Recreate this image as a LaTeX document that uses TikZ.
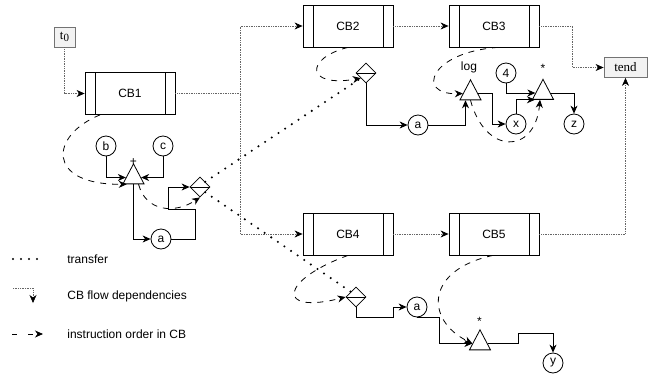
\documentclass[tikz,border=0pt]{standalone}
\usepackage{fontspec}
\setmainfont{Liberation Sans}
\newfontfamily\tnr{Liberation Serif}
\usetikzlibrary{arrows.meta,shapes.geometric}

\begin{document}
\begin{tikzpicture}[x=1pt, y=-1pt, line width=0.8pt,
    font=\fontsize{12}{14}\selectfont,
    >={Stealth[length=8pt,width=7pt,inset=2.5pt]},
    cb/.style={draw, minimum width=90pt, minimum height=42pt, inner sep=0pt,
      path picture={\draw ([xshift=10pt]path picture bounding box.north west) -- ([xshift=10pt]path picture bounding box.south west)
        ([xshift=-10pt]path picture bounding box.north east) -- ([xshift=-10pt]path picture bounding box.south east);}},
    term/.style={draw=black!55, fill=black!5, minimum height=20pt, inner sep=0pt, font=\tnr\fontsize{13}{14}\selectfont},
    var/.style={circle, draw, minimum size=20pt, inner sep=0pt},
    op/.style={isosceles triangle, isosceles triangle stretches, shape border rotate=90,
      draw, minimum width=21pt, minimum height=20pt, inner sep=0pt},
    split/.style={diamond, draw, minimum width=20pt, minimum height=20pt, inner sep=0pt,
      path picture={\draw (path picture bounding box.west) -- (path picture bounding box.east);}},
    lbl/.style={anchor=base, inner sep=0pt},
    key/.style={anchor=west, inner sep=0pt},
    flow/.style={-{Stealth[length=8pt,width=7pt,inset=2.5pt,color=black]}, draw=black!60, densely dotted, line width=0.7pt},
    instr/.style={->, dash pattern=on 6pt off 6pt},
    transfer/.style={line width=2.3pt, line cap=round, dash pattern=on 0pt off 8pt}]

    \useasboundingbox (0,0) rectangle (649,373);

    % control blocks
    \node[term, minimum width=21pt] (t0) at (64.5,37) {t\raisebox{-0.4ex}{\fontsize{11}{11}\selectfont 0}};
    \node[term, minimum width=43pt] (tend) at (625.5,67.5) {tend};
    \node[cb] (cb1) at (130,93.5) {CB1};
    \node[cb] (cb2) at (348,26) {CB2};
    \node[cb] (cb3) at (494,26) {CB3};
    \node[cb] (cb4) at (348,234) {CB4};
    \node[cb] (cb5) at (494,234) {CB5};
    \coordinate (fork) at (240,93.5);

    \draw[flow] (t0.south) |- (cb1.west);
    \draw[flow] (cb1.east) -- (fork) |- (cb2.west);
    \draw[flow] (fork) |- (cb4.west);
    \draw[flow] (cb2) -- (cb3);
    \draw[flow] (cb4) -- (cb5);
    \draw[flow] (cb3.east) -- ++(33,0) |- (tend.west);
    \draw[flow] (cb5.east) -| (tend.south);

    % CB1
    \node[var] (b) at (106,146) {b};
    \node[var] (c) at (163,146) {c};
    \node[op] (add) at (133.5,177.5) {};
    \node[lbl] (addl) at (133.5,165) {+};
    \node[var] (a1) at (161,239) {a};
    \node[split] (s1) at (200,187) {};

    \draw[->] (b) |- (add.west);
    \draw[->] (c) |- (add.east);
    \draw[->] (add.south) |- (a1.west);
    \draw[->] (a1.east) -- ++(24,0) -- ++(0,-30) -- ++(-27,0) |- (s1.west);
    \draw[instr] ([xshift=-30pt]cb1.south) .. controls (50,135) and (45,185) .. (add.south west);
    \draw[instr] ([xshift=5pt]add.south) .. controls (146,212) and (175,214) .. (s1.south);

    % CB2
    \node[split] (s2) at (366,73) {};
    \node[var] (a2) at (418,125) {a};
    \draw[->] (s2.south) |- (a2.west);
    \draw[instr] (cb2.south) .. controls (305,58) and (305,88) .. (s2.south west);

    % CB3
    \node[op] (log) at (470.5,93.5) {};
    \node[lbl] (logl) at (469,70) {log};
    \node[var] (x) at (516,124) {x};
    \node[var] (four) at (506,73) {4};
    \node[op] (mul) at (543,93) {};
    \node[lbl] (mull) at (543,72) {*};
    \node[var] (z) at (574,124) {z};

    \draw[->] (a2.east) -| ([xshift=-5pt]log.south);
    \draw[->] (log.east) -- ++(14,0) |- (x.west);
    \draw[->] (four.south) |- (mul.west);
    \draw[->] (x.north) |- (mul.220);
    \draw[->] (mul.east) -| (z.north);
    \draw[instr] ([xshift=4pt]cb3.south) .. controls (430,52) and (415,95) .. (log.west);
    \draw[instr] (log.south) .. controls (485,155) and (535,155) .. ([xshift=-3pt]mul.south);

    % CB4
    \node[split] (s3) at (356,297) {};
    \node[var] (a3) at (417,307) {a};
    \draw[->] (s3.south) |- ++(37,10) |- (a3.west);
    \draw[instr] (cb4.south) .. controls (280,280) and (275,315) .. (s3.west);

    % CB5
    \node[op] (mul2) at (480,343.5) {};
    \node[lbl] (mul2l) at (479.5,325) {*};
    \node[var] (y) at (553,363) {y};
    \draw[->] (a3.south) -- ++(22,0) |- (mul2.west);
    \draw[->] (mul2.east) -| ++(31,-10) -| (y.north);
    \draw[instr] ([xshift=-1pt]cb5.south) .. controls (425,270) and (425,320) .. (mul2.west);

    % transfers
    \draw[transfer] (s1.north east) -- (s2.south west);
    \draw[transfer] (s1.south east) -- (s3.north west);

    % legend
    \coordinate (k1) at (13,259);
    \coordinate (k2) at (40,259);
    \coordinate (k3) at (13,288);
    \coordinate (k4) at (33,303);
    \coordinate (k5) at (12,334);
    \coordinate (k6) at (43,334);
    \node[key] (ktr) at (67,259) {transfer};
    \node[key] (kfl) at (67,296) {CB flow dependencies};
    \node[key] (kin) at (67,334) {instruction order in CB};
    \draw[transfer] (k1) -- (k2);
    \draw[flow] (k3) -| (k4);
    \draw[instr, dash pattern=on 5pt off 11pt] (k5) -- (k6);
\end{tikzpicture}
\end{document}
